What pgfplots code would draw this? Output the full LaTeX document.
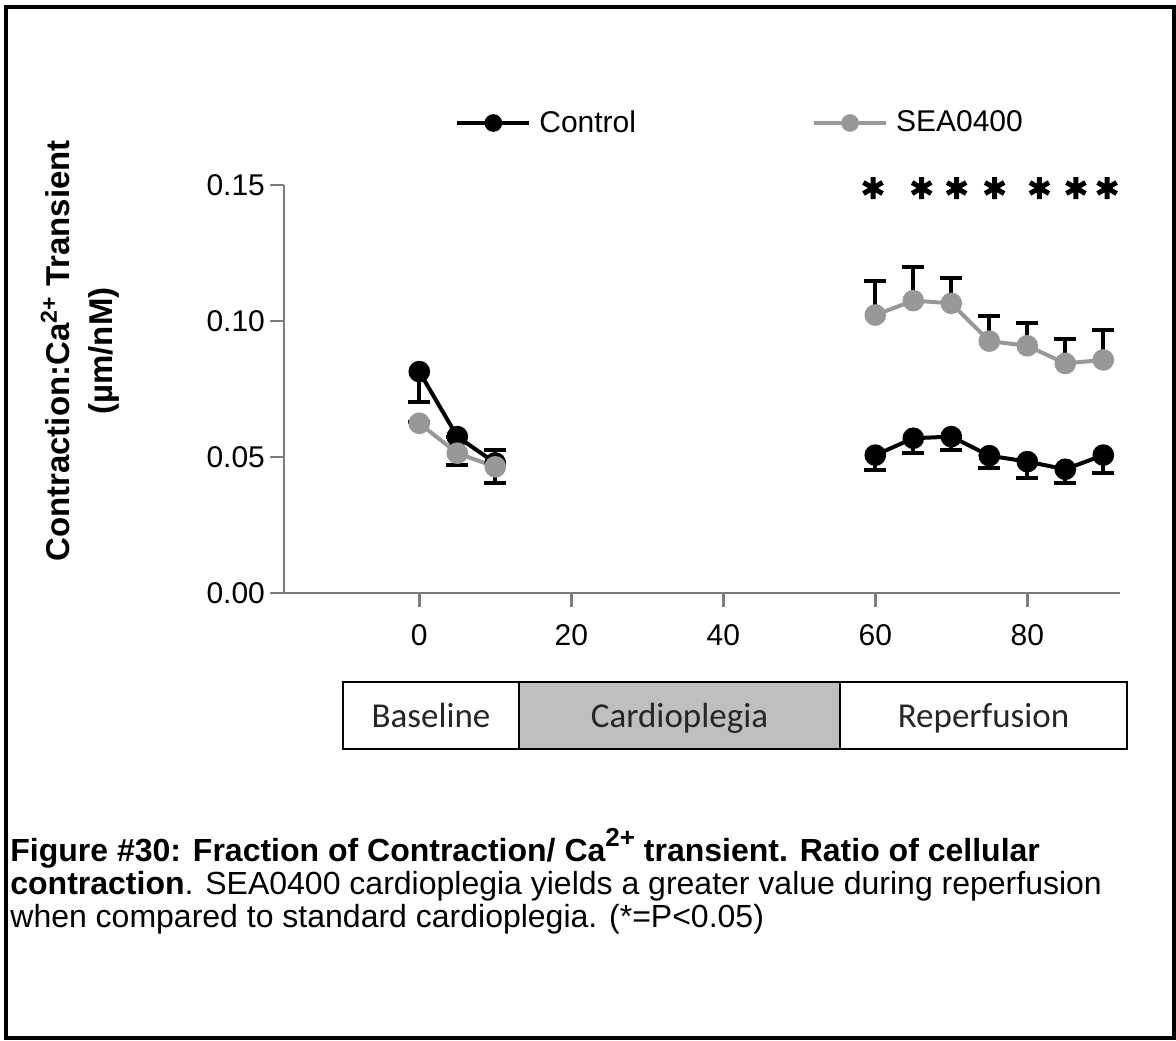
\documentclass[border=0pt]{standalone}
\usepackage{pgfplots}
\pgfplotsset{compat=1.18}
\usepackage{pgfplotstable}
\usepackage{fontspec}
\setmainfont{Liberation Sans}
\newfontfamily\calibri{Carlito}
\definecolor{axgray}{RGB}{125,125,125}
\definecolor{seagray}{RGB}{152,152,152}
\definecolor{boxgray}{RGB}{191,191,191}

% control: mean and downward SEM; nan row breaks the line over cardioplegia
\pgfplotstableread{
x    y       e
0    0.0814  0.0111
5    0.0575  0.0105
10   0.0478  0.0072
35   nan     nan
60   0.0507  0.0055
65   0.0569  0.0055
70   0.0575  0.0049
75   0.0505  0.0047
80   0.0483  0.0061
85   0.0455  0.0052
90   0.0507  0.0065
}\ctrl
% SEA0400: mean and upward SEM
\pgfplotstableread{
x    y       e
0    0.0624  0.0005
5    0.0514  0.0060
10   0.0464  0.0062
35   nan     nan
60   0.1022  0.0126
65   0.1075  0.0122
70   0.1065  0.0092
75   0.0926  0.0094
80   0.0909  0.0083
85   0.0844  0.0089
90   0.0857  0.0110
}\sea

\begin{document}
\begin{tikzpicture}
\useasboundingbox (0,0) rectangle (588pt,-520pt);
\begin{axis}[
  at={(142pt,-296.5pt)}, anchor=south west,
  scale only axis, width=418pt, height=204pt,
  xmin=-17.8, xmax=92.2, ymin=0, ymax=0.15,
  axis x line*=bottom, axis y line*=left,
  axis line style={axgray,line width=1.4pt,-},
  tick style={axgray,line width=1.4pt},
  tick align=outside, major tick length=7pt,
  xtick={0,20,40,60,80}, ytick={0,0.05,0.1,0.15},
  xticklabels={0,20,40,60,80}, yticklabels={0.00,0.05,0.10,0.15},
  tick label style={font=\fontsize{15}{17}\selectfont},
  xticklabel style={yshift=-5pt},
  yticklabel style={xshift=1pt},
  clip=false, unbounded coords=jump,
  legend columns=2,
  legend style={at={(axis description cs:0.2045,1.152)}, anchor=west,
    draw=none, fill=none, inner sep=0pt, font=\fontsize{15}{18}\selectfont,
    /tikz/every even column/.append style={column sep=86pt},
    /tikz/every odd column/.append style={column sep=2pt}},
  legend image code/.code={\draw[mark repeat=2,mark phase=2,#1,mark size=3.4pt]
    plot coordinates {(0pt,0pt) (18pt,0pt) (36pt,0pt)};},
]
\addplot[black, line width=2pt, mark=*, mark size=4.4pt,
  mark options={fill=black,draw=black},
  error bars/.cd, y dir=minus, y explicit,
  error bar style={black,line width=2pt},
  error mark options={rotate=90,black,line width=2pt,mark size=5.5pt}]
  table[x=x,y=y,y error=e] {\ctrl};
\addplot[seagray, line width=2pt, mark=*, mark size=4.4pt,
  mark options={fill=seagray,draw=seagray},
  error bars/.cd, y dir=plus, y explicit,
  error bar style={black,line width=2pt},
  error mark options={rotate=90,black,line width=2pt,mark size=5.5pt}]
  table[x=x,y=y,y error=e] {\sea};
\legend{Control,SEA0400}
% significance asterisks
\addplot[forget plot, only marks, mark=asterisk, mark size=5.5pt, line width=2.5pt, black]
  coordinates {(59.7,0.1489) (66.1,0.1489) (70.7,0.1489) (75.7,0.1489)
               (81.6,0.1489) (86.4,0.1489) (90.5,0.1489)};
\end{axis}

\begin{scope}[x=0.5pt,y=-0.5pt]
\draw[line width=2pt] (6,7) rectangle (1174,1038);
\node[rotate=90, align=center, font=\bfseries\fontsize{16.5}{21.5}\selectfont]
  at (80,351) {Contraction:Ca\textsuperscript{2+} Transient\\(µm/nM)};
% protocol timeline
\draw[line width=1pt] (343,682) rectangle (519,749);
\filldraw[line width=1pt, fill=boxgray] (519,682) rectangle (840,749);
\draw[line width=1pt] (840,682) rectangle (1127,749);
\node[anchor=base, font=\calibri\fontsize{17.5}{20}\selectfont, text=black!85] at (431,727) {Baseline};
\node[anchor=base, font=\calibri\fontsize{17.5}{20}\selectfont, text=black!85] at (679.5,727) {Cardioplegia};
\node[anchor=base, font=\calibri\fontsize{17.5}{20}\selectfont, text=black!85] at (983.5,727) {Reperfusion};
% caption
\node[anchor=base west, inner sep=0pt, font=\bfseries\fontsize{16}{19}\selectfont]
  at (10,861) {Figure \#30: Fraction of Contraction/ Ca\raisebox{0.45em}{\fontsize{13}{15}\selectfont 2+} transient. Ratio of cellular};
\node[anchor=base west, inner sep=0pt, font=\fontsize{16}{19}\selectfont]
  at (10,894) {\textbf{contraction}. SEA0400 cardioplegia yields a greater value during reperfusion};
\node[anchor=base west, inner sep=0pt, font=\fontsize{16}{19}\selectfont]
  at (10,927) {when compared to standard cardioplegia. (*=P<0.05)};
\end{scope}
\end{tikzpicture}
\end{document}
